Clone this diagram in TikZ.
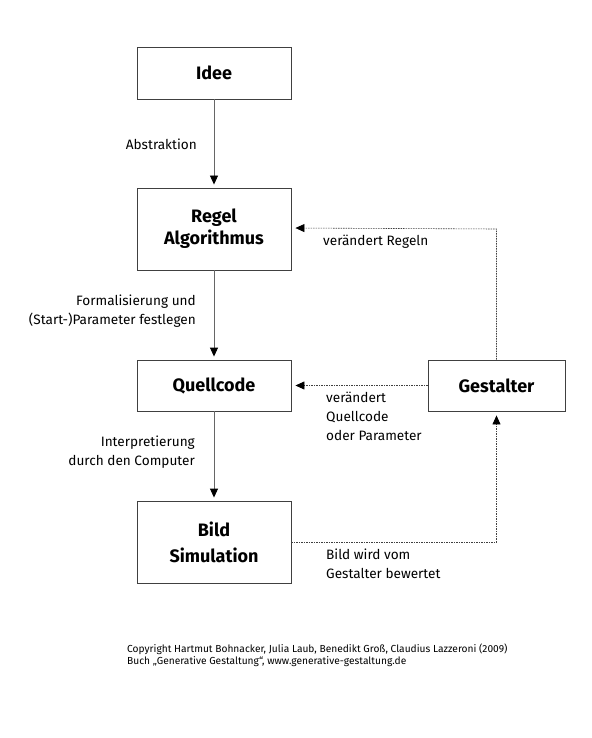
\documentclass[tikz,border=0pt]{standalone}
\usepackage{fontspec}
\setmainfont{Fira Sans}
\usetikzlibrary{arrows.meta}
\begin{document}
\begin{tikzpicture}[x=1pt,y=-1pt,
  box/.style={draw=black!75,line width=0.9pt,fill=white,inner sep=0pt,font=\fontsize{18}{22}\selectfont\bfseries,align=center},
  lbl/.style={font=\fontsize{13.6}{19}\selectfont,inner sep=0pt},
  flow/.style={draw=black!60,line width=0.9pt,-{Triangle[width=8pt,length=9pt,black]},shorten >=3pt},
  fb/.style={draw=black!75,line width=0.6pt,dash pattern=on 1.5pt off 1pt,-{Triangle[width=8pt,length=9pt,black]},shorten >=4pt}]
\useasboundingbox (0,0) rectangle (591,738);
\node[box,minimum width=154pt,minimum height=52pt] (idee) at (214,73) {Idee};
\node[box,minimum width=154pt,minimum height=82pt] (regel) at (214,229) {Regel\\Algorithmus};
\node[box,minimum width=154pt,minimum height=51pt] (quell) at (214,385.5) {Quellcode};
\node[box,minimum width=154pt,minimum height=82pt,font=\fontsize{18}{26}\selectfont\bfseries] (bild) at (214,542) {Bild\\Simulation};
\node[box,minimum width=137pt,minimum height=51pt] (gest) at (496.5,385.5) {Gestalter};

\draw[flow] (idee) -- (regel);
\draw[flow] (regel) -- (quell);
\draw[flow] (quell) -- (bild);

\coordinate (c1) at (gest.north |- regel.east);
\draw[fb] (gest.north) -- (c1) -- ([yshift=1pt]regel.east);
\draw[fb] (gest.west) -- (quell.east);
\coordinate (c2) at (gest.south |- bild.east);
\draw[fb] (bild.east) -- (c2) -- (gest.south);

\node[lbl,anchor=east,align=right] (l1) at (197,144) {Abstraktion};
\node[lbl,anchor=east,align=right] (l2) at (196,311.5) {Formalisierung und\\(Start-)Parameter festlegen};
\node[lbl,anchor=east,align=right] (l3) at (195,452.5) {Interpretierung\\durch den Computer};
\node[lbl,anchor=west,align=left] (l4) at (323,242) {verändert Regeln};
\node[lbl,anchor=west,align=left] (l5) at (326,416) {verändert\\Quellcode\\oder Parameter};
\node[lbl,anchor=west,align=left] (l6) at (326,563.5) {Bild wird vom\\Gestalter bewertet};
\node[inner sep=0pt,anchor=west,align=left,font=\fontsize{10.2}{11.5}\selectfont] (copy) at (127,655.5) {Copyright Hartmut Bohnacker, Julia Laub, Benedikt Groß, Claudius Lazzeroni (2009)\\Buch „Generative Gestaltung“, www.generative-gestaltung.de};
\end{tikzpicture}
\end{document}
